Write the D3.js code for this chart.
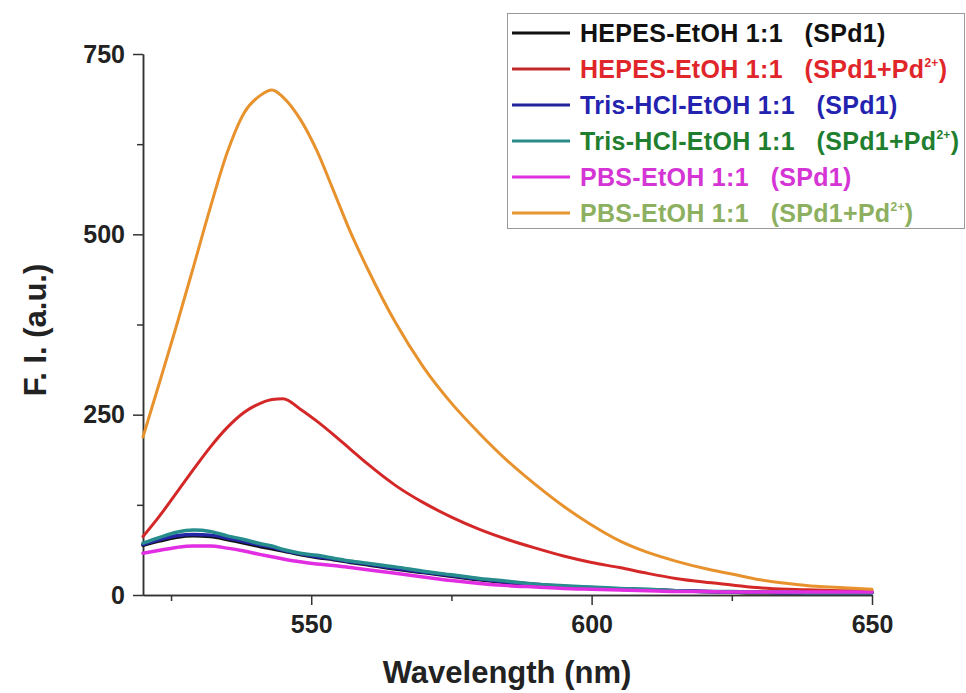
<!DOCTYPE html>
<html>
<head>
<meta charset="utf-8">
<script src="https://cdn.jsdelivr.net/npm/d3@7"></script>
<style>
    body { margin: 0; background: #fff; }
    svg text { font-family: "Liberation Sans", Arial, sans-serif; font-weight: bold; }
    .axis path, .axis line { stroke: #333; stroke-width: 1.5; }
    .axis text { font-size: 25px; fill: #222; }
    .line { fill: none; stroke-linejoin: round; stroke-linecap: round; }
</style>
</head>
<body>
<div id="chart"></div>
<script>

// wavelength (nm) sampled along the curves
var wavelengths = [520, 523, 526, 529, 532, 535, 538, 541, 543, 545, 548, 551, 554, 557, 560,
    565, 570, 575, 580, 585, 590, 595, 600, 605, 610, 615, 620, 625, 630, 635, 640, 645, 650];

var hepesSPd1 = [69, 75, 80, 82, 81, 77, 72, 67, 64, 61, 56, 52, 49, 45, 42,
    36, 31, 26, 21, 17, 14, 11, 9, 8, 7, 6, 5, 4, 3, 3, 3, 3, 3];
var hepesSPd1Pd = [81, 110, 142, 174, 205, 232, 253, 266, 271, 272, 258, 241, 222, 202, 182,
    152, 128, 108, 91, 77, 65, 54, 45, 38, 30, 23, 18, 14, 10, 8, 7, 6, 6];
var trisSPd1 = [70, 77, 82, 84, 83, 79, 74, 69, 66, 62, 57, 53, 50, 46, 43,
    37, 32, 27, 22, 18, 15, 12, 10, 8, 7, 6, 5, 4, 4, 3, 3, 3, 3];
var trisSPd1Pd = [72, 80, 87, 90, 88, 82, 77, 71, 68, 63, 58, 55, 51, 47, 44,
    39, 33, 28, 23, 19, 15, 13, 11, 9, 8, 6, 5, 5, 4, 4, 3, 3, 3];
var pbsSPd1 = [58, 62, 66, 68, 68, 65, 61, 56, 53, 50, 46, 43, 41, 38, 35,
    30, 25, 20, 16, 13, 11, 9, 8, 7, 6, 5, 5, 4, 4, 4, 4, 4, 4];
var pbsSPd1Pd = [219, 296, 374, 455, 537, 613, 668, 693, 700, 690, 660, 616, 560, 503, 453,
    378, 316, 266, 224, 186, 153, 123, 97, 75, 59, 47, 37, 29, 21, 16, 12, 10, 8];

var seriesNames = ["HEPES-EtOH 1:1   (SPd1)", "HEPES-EtOH 1:1   (SPd1+Pd", "Tris-HCl-EtOH 1:1   (SPd1)",
    "Tris-HCl-EtOH 1:1   (SPd1+Pd", "PBS-EtOH 1:1   (SPd1)", "PBS-EtOH 1:1   (SPd1+Pd"];
var seriesValues = [hepesSPd1, hepesSPd1Pd, trisSPd1, trisSPd1Pd, pbsSPd1, pbsSPd1Pd];
var hasIon = [false, true, false, true, false, true];

var lineColors = ["#111111", "#D42828", "#2525A8", "#278C8C", "#E22EE2", "#E8922E"];
var legendLineColors = ["#111111", "#C0282A", "#232399", "#2A8A8A", "#E030E0", "#E8962E"];
var textColors = ["#111111", "#E0262A", "#2323B0", "#1F7F2F", "#D535D5", "#8CB060"];

var xMajorTicks = [550, 600, 650],
    xMinorTicks = [525, 575, 625],
    yMajorTicks = [0, 250, 500, 750],
    yMinorTicks = [125, 375, 625];

var w = 966, h = 693,
    margin = {top: 54, right: 94, bottom: 98, left: 143},
    width = w - margin.left - margin.right,
    height = h - margin.top - margin.bottom;

var svg = d3.select("#chart").append("svg")
    .attr("width", w)
    .attr("height", h);

var g = svg.append("g").attr("transform", "translate(" + margin.left + "," + margin.top + ")");

var x = d3.scaleLinear()
    .domain([520, 650])
    .range([0, width]);
var y = d3.scaleLinear()
    .domain([0, 750])
    .range([height, 0]);

// axes: major ticks with labels, minor ticks without
g.append("g")
    .attr("class", "axis")
    .attr("transform", "translate(0," + height + ")")
    .call(d3.axisBottom(x).tickValues(xMajorTicks).tickSize(10).tickSizeOuter(0).tickPadding(10).tickFormat(d3.format("d")));
g.append("g")
    .attr("class", "axis")
    .attr("transform", "translate(0," + height + ")")
    .call(d3.axisBottom(x).tickValues(xMinorTicks).tickSize(6).tickSizeOuter(0).tickFormat(""));
g.append("g")
    .attr("class", "axis")
    .call(d3.axisLeft(y).tickValues(yMajorTicks).tickSize(10).tickSizeOuter(0).tickPadding(8).tickFormat(d3.format("d")));
g.append("g")
    .attr("class", "axis")
    .call(d3.axisLeft(y).tickValues(yMinorTicks).tickSize(6).tickSizeOuter(0).tickFormat(""));

var line = d3.line()
    .curve(d3.curveMonotoneX)
    .x(function (d, i) {
        return x(wavelengths[i]);
    })
    .y(function (d) {
        return y(d);
    });

seriesValues.forEach(function (values, i) {
    g.append("path")
        .datum(values)
        .attr("class", "line")
        .attr("d", line)
        .style("stroke", lineColors[i])
        .style("stroke-width", i == 1 || i == 5 ? 3 : 3.5);
});

// axis titles
svg.append("text")
    .attr("x", 507)
    .attr("y", 683)
    .attr("text-anchor", "middle")
    .style("font-size", "31px")
    .style("fill", "#222")
    .text("Wavelength (nm)");
svg.append("text")
    .attr("transform", "translate(46,330) rotate(-90)")
    .attr("text-anchor", "middle")
    .style("font-size", "31px")
    .style("fill", "#222")
    .text("F. I. (a.u.)");

// legend
var legend = svg.append("g");
legend.append("rect")
    .attr("x", 507.5)
    .attr("y", 13.5)
    .attr("width", 457)
    .attr("height", 215)
    .style("fill", "#fff")
    .style("stroke", "#999")
    .style("stroke-width", 1);

seriesNames.forEach(function (name, i) {
    var cy = 33 + i * 36;
    legend.append("line")
        .attr("x1", 512)
        .attr("x2", 570)
        .attr("y1", cy)
        .attr("y2", cy)
        .style("stroke", legendLineColors[i])
        .style("stroke-width", 3);
    var text = legend.append("text")
        .attr("x", 580)
        .attr("y", cy + 8.5)
        .style("font-size", "25px")
        .style("letter-spacing", "0.3px")
        .style("white-space", "pre")
        .style("fill", textColors[i]);
    text.append("tspan").text(name);
    if (hasIon[i]) {
        text.append("tspan")
            .attr("dy", -11)
            .style("font-size", "12px")
            .text("2+");
        text.append("tspan")
            .attr("dy", 11)
            .text(")");
    }
});

</script>
</body>
</html>
